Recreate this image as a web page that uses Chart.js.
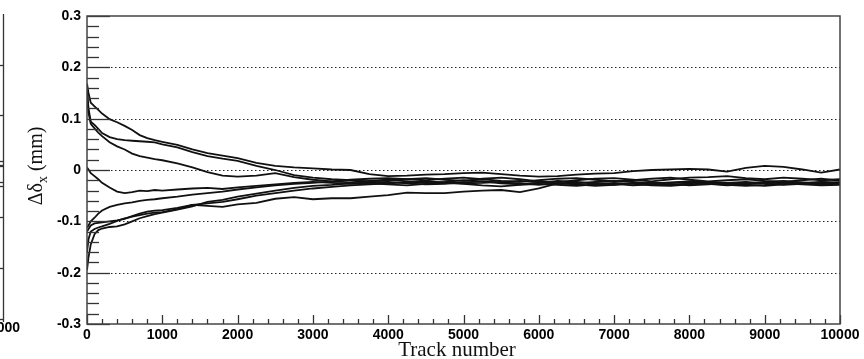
<!DOCTYPE html>
<html>
<head>
<meta charset="utf-8">
<script src="https://cdn.jsdelivr.net/npm/chart.js@4.4.1/dist/chart.umd.min.js"></script>
<style>
  html, body { margin: 0; padding: 0; background: #fff; }
  canvas { display: block; }
</style>
</head>
<body>
<canvas id="c" width="864" height="359"></canvas>
<script>
// Alignment residual vs. track number, eight runs converging

const trackNumbers = [0, 20, 50, 100, 150, 200, 300, 400, 500, 600, 700, 800, 900, 1000,
  1200, 1400, 1600, 1800, 2000, 2250, 2500, 2750, 3000, 3250, 3500, 3750, 4000, 4250,
  4500, 4750, 5000, 5250, 5500, 5750, 6000, 6250, 6500, 6750, 7000, 7250, 7500, 7750,
  8000, 8250, 8500, 8750, 9000, 9250, 9500, 9750, 10000];

const runA = [0.168, 0.150, 0.131, 0.124, 0.117, 0.110, 0.099, 0.093, 0.086, 0.078, 0.068, 0.062, 0.058, 0.055,
  0.049, 0.040, 0.033, 0.028, 0.023, 0.014, 0.008, 0.005, 0.003, 0.001, 0.000, -0.008, -0.012, -0.011,
  -0.009, -0.008, -0.006, -0.005, -0.008, -0.011, -0.013, -0.012, -0.009, -0.007, -0.006, -0.002, 0.000, 0.001,
  0.002, 0.001, -0.003, 0.004, 0.008, 0.006, 0.001, -0.005, 0.001];
const runB = [0.160, 0.120, 0.094, 0.088, 0.080, 0.072, 0.064, 0.060, 0.058, 0.057, 0.056, 0.055, 0.054, 0.050,
  0.044, 0.035, 0.027, 0.022, 0.018, 0.008, 0.000, -0.010, -0.015, -0.018, -0.020, -0.022, -0.020, -0.018,
  -0.016, -0.019, -0.021, -0.017, -0.015, -0.018, -0.022, -0.024, -0.020, -0.017, -0.016, -0.019, -0.022, -0.018,
  -0.015, -0.014, -0.012, -0.016, -0.018, -0.015, -0.017, -0.020, -0.018];
const runC = [0.142, 0.112, 0.090, 0.081, 0.073, 0.066, 0.054, 0.046, 0.040, 0.032, 0.027, 0.024, 0.021, 0.019,
  0.013, 0.005, -0.004, -0.011, -0.013, -0.011, -0.006, -0.014, -0.019, -0.022, -0.024, -0.021, -0.019, -0.022,
  -0.025, -0.023, -0.020, -0.022, -0.026, -0.028, -0.025, -0.021, -0.023, -0.027, -0.029, -0.026, -0.024, -0.027,
  -0.030, -0.028, -0.025, -0.023, -0.026, -0.029, -0.027, -0.024, -0.026];
const runD = [0.005, 0.001, -0.006, -0.012, -0.018, -0.025, -0.034, -0.042, -0.045, -0.043, -0.040, -0.041, -0.039, -0.040,
  -0.038, -0.036, -0.035, -0.037, -0.034, -0.031, -0.028, -0.025, -0.023, -0.025, -0.027, -0.026, -0.028, -0.030,
  -0.027, -0.025, -0.027, -0.030, -0.032, -0.029, -0.027, -0.029, -0.031, -0.028, -0.025, -0.027, -0.030, -0.031,
  -0.028, -0.026, -0.029, -0.031, -0.029, -0.026, -0.028, -0.030, -0.029];
const runE = [-0.112, -0.108, -0.100, -0.093, -0.085, -0.079, -0.072, -0.068, -0.065, -0.063, -0.060, -0.058, -0.057, -0.055,
  -0.052, -0.048, -0.045, -0.042, -0.038, -0.034, -0.030, -0.027, -0.025, -0.022, -0.019, -0.017, -0.016, -0.018,
  -0.020, -0.017, -0.015, -0.018, -0.021, -0.023, -0.020, -0.017, -0.016, -0.019, -0.022, -0.020, -0.017, -0.015,
  -0.019, -0.022, -0.020, -0.018, -0.021, -0.023, -0.020, -0.017, -0.021];
const runF = [-0.120, -0.115, -0.108, -0.104, -0.103, -0.102, -0.100, -0.098, -0.095, -0.090, -0.085, -0.081, -0.079, -0.078,
  -0.074, -0.068, -0.065, -0.062, -0.057, -0.050, -0.045, -0.040, -0.036, -0.033, -0.030, -0.028, -0.026, -0.024,
  -0.022, -0.024, -0.026, -0.025, -0.023, -0.021, -0.024, -0.027, -0.026, -0.023, -0.021, -0.023, -0.026, -0.024,
  -0.022, -0.024, -0.027, -0.026, -0.023, -0.021, -0.024, -0.027, -0.025];
const runG = [-0.195, -0.170, -0.145, -0.125, -0.117, -0.114, -0.111, -0.110, -0.106, -0.100, -0.094, -0.090, -0.086, -0.083,
  -0.077, -0.071, -0.062, -0.058, -0.052, -0.046, -0.040, -0.035, -0.031, -0.029, -0.026, -0.024, -0.023, -0.026,
  -0.028, -0.027, -0.024, -0.022, -0.024, -0.026, -0.029, -0.026, -0.024, -0.025, -0.027, -0.030, -0.028, -0.025,
  -0.024, -0.027, -0.030, -0.028, -0.025, -0.024, -0.026, -0.028, -0.027];
const runH = [-0.160, -0.135, -0.120, -0.115, -0.112, -0.110, -0.105, -0.099, -0.094, -0.091, -0.088, -0.085, -0.083, -0.082,
  -0.076, -0.068, -0.070, -0.072, -0.067, -0.064, -0.056, -0.053, -0.057, -0.055, -0.055, -0.052, -0.049, -0.044,
  -0.045, -0.045, -0.042, -0.040, -0.039, -0.043, -0.036, -0.026, -0.028, -0.031, -0.029, -0.025, -0.027, -0.029,
  -0.026, -0.023, -0.025, -0.029, -0.031, -0.028, -0.025, -0.023, -0.024];

const runs = [runA, runB, runC, runD, runE, runF, runG, runH];

const yTicks = [-0.3, -0.2, -0.1, 0, 0.1, 0.2, 0.3];
const gridLevels = [-0.2, -0.1, 0, 0.1, 0.2];
const xMax = 10000;
const xTitle = 'Track number';

const frame = {
  id: 'frame',
  beforeDatasetsDraw(chart) {
    const ctx = chart.ctx, a = chart.chartArea, ys = chart.scales.y;
    ctx.save();
    ctx.strokeStyle = '#222';
    ctx.lineWidth = 1;
    ctx.setLineDash([1.5, 2.5]);
    for (const v of gridLevels) {
      const y = Math.round(ys.getPixelForValue(v)) + 0.5;
      ctx.beginPath(); ctx.moveTo(a.left, y); ctx.lineTo(a.right, y); ctx.stroke();
    }
    ctx.restore();
  },
  afterDatasetsDraw(chart) {
    const ctx = chart.ctx, a = chart.chartArea, xs = chart.scales.x, ys = chart.scales.y;
    ctx.save();
    ctx.strokeStyle = '#333';
    ctx.lineWidth = 1.3;
    // y ticks every 0.02, major every 0.1
    for (let k = -15; k <= 15; k++) {
      const y = Math.round(ys.getPixelForValue(k / 50)) + 0.5;
      const len = (k % 5 === 0) ? 23 : 12;
      ctx.beginPath(); ctx.moveTo(a.left, y); ctx.lineTo(a.left + len, y); ctx.stroke();
    }
    // x ticks every 200, major every 1000
    for (let k = 0; k <= 50; k++) {
      const x = Math.round(xs.getPixelForValue(k * 200)) + 0.5;
      const len = (k % 5 === 0) ? 9 : 5;
      ctx.beginPath(); ctx.moveTo(x, a.bottom); ctx.lineTo(x, a.bottom - len); ctx.stroke();
    }
    ctx.strokeStyle = '#444';
    ctx.lineWidth = 1.5;
    ctx.strokeRect(a.left, a.top, a.right - a.left, a.bottom - a.top);

    // axis titles
    ctx.fillStyle = '#111';
    ctx.font = '21px "Liberation Serif"';
    ctx.textAlign = 'center';
    ctx.textBaseline = 'alphabetic';
    ctx.fillText(xTitle, 457, 356);

    ctx.translate(42, 166);
    ctx.rotate(-Math.PI / 2);
    const big = '20px "Liberation Serif"', small = '14px "Liberation Serif"';
    ctx.font = big;
    const w1 = ctx.measureText('\u0394\u03b4').width;
    const w3 = ctx.measureText(' (mm)').width;
    ctx.font = small;
    const w2 = ctx.measureText('x').width;
    let x0 = -(w1 + w2 + w3) / 2;
    ctx.textAlign = 'left';
    ctx.font = big;
    ctx.fillText('\u0394\u03b4', x0, 0);
    ctx.font = small;
    ctx.fillText('x', x0 + w1, 5);
    ctx.font = big;
    ctx.fillText(' (mm)', x0 + w1 + w2, 0);
    ctx.restore();

    // edge of the neighbouring panel, cut off at the left
    ctx.save();
    ctx.strokeStyle = '#333';
    ctx.lineWidth = 1.3;
    ctx.beginPath(); ctx.moveTo(3.5, 14); ctx.lineTo(3.5, 322); ctx.stroke();
    for (const y of [65, 115, 166, 217, 268, 319]) {
      ctx.beginPath(); ctx.moveTo(0, y + 0.5); ctx.lineTo(3, y + 0.5); ctx.stroke();
    }
    for (const y of [161, 165, 182, 186]) {
      ctx.beginPath(); ctx.moveTo(0, y + 0.5); ctx.lineTo(4, y + 0.5); ctx.stroke();
    }
    ctx.fillStyle = '#000';
    ctx.font = 'bold 14px "Liberation Sans"';
    ctx.textAlign = 'right';
    ctx.textBaseline = 'middle';
    ctx.fillText(String(xMax), 20, 328);
    ctx.restore();
  }
};

new Chart(document.getElementById('c'), {
  type: 'line',
  data: {
    datasets: runs.map(r => ({
      data: trackNumbers.map((t, i) => ({ x: t, y: r[i] })),
      borderColor: '#111',
      borderWidth: 1.8,
      pointRadius: 0,
      tension: 0,
      fill: false
    }))
  },
  options: {
    responsive: false,
    animation: false,
    devicePixelRatio: 1,
    layout: { padding: { left: 0, right: 24, top: 16, bottom: 0 } },
    plugins: { legend: { display: false }, tooltip: { enabled: false } },
    scales: {
      x: {
        type: 'linear', min: 0, max: xMax,
        grid: { display: false, drawTicks: false },
        border: { display: false },
        ticks: {
          stepSize: 1000, autoSkip: false, maxRotation: 0, padding: 3,
          color: '#000', font: { family: 'Liberation Sans', size: 14, weight: 'bold' },
          callback: v => String(v)
        },
        afterFit: s => { s.height = 35; }
      },
      y: {
        type: 'linear', min: -0.3, max: 0.3,
        grid: { display: false, drawTicks: false },
        border: { display: false },
        afterBuildTicks: s => { s.ticks = yTicks.map(v => ({ value: v })); },
        ticks: {
          padding: 6,
          color: '#000', font: { family: 'Liberation Sans', size: 14, weight: 'bold' },
          callback: v => Math.abs(v) < 1e-9 ? '0' : v.toFixed(1)
        },
        afterFit: s => { s.width = 87; }
      }
    }
  },
  plugins: [frame]
});
</script>
</body>
</html>
